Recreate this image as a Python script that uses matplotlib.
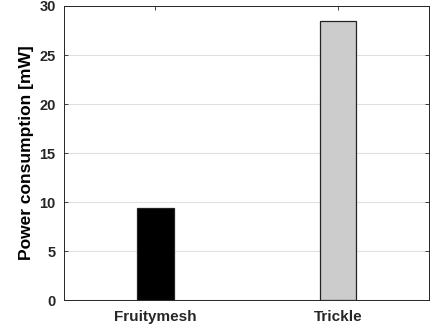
import numpy as np
import matplotlib
matplotlib.use("Agg")
from matplotlib import pyplot as plt

protocols = ["Fruitymesh", "Trickle"]
power_mw = [9.42, 28.5]
bar_colors = ["#000000", "#cccccc"]
y_ticks = [0, 5, 10, 15, 20, 25, 30]

plt.rcParams["font.family"] = ["Liberation Sans", "DejaVu Sans"]
plt.rcParams["font.weight"] = "bold"

fig = plt.figure(figsize=(4.4, 3.33), dpi=100)
ax = fig.add_axes([0.1455, 0.099, 0.83, 0.883])

x = np.arange(1, len(protocols) + 1)
ax.bar(x, power_mw, width=0.2, color=bar_colors, edgecolor="#222222",
       linewidth=0.9, zorder=3)

ax.set_xlim(0.5, 2.5)
ax.set_ylim(0, 30)
ax.set_xticks(x)
ax.set_xticklabels(protocols, fontsize=11, fontweight="bold")
ax.set_yticks(y_ticks)
ax.set_yticklabels([str(t) for t in y_ticks], fontsize=10.5, fontweight="bold")
ax.set_ylabel("Power consumption [mW]", fontsize=12.5, fontweight="bold",
              labelpad=4)

ax.grid(axis="y", color="#e0e0e0", linewidth=0.8, zorder=0)
ax.tick_params(direction="in", top=True, right=True, length=3,
               width=0.6, colors="#262626", labelcolor="#262626")
ax.tick_params(axis="y", pad=6)
ax.tick_params(axis="x", pad=7)
for s in ax.spines.values():
    s.set_color("#262626")
    s.set_linewidth(0.7)

fig.savefig("out.png", dpi=100)
